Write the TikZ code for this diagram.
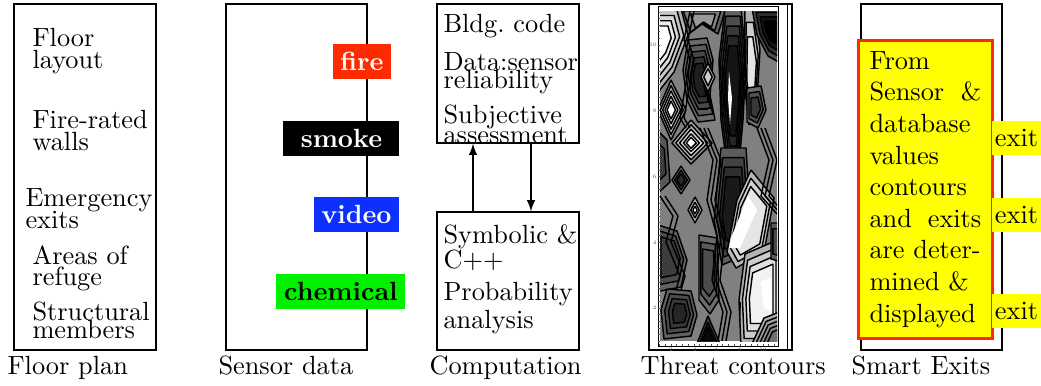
\documentclass[tikz,border=0pt]{standalone}
\usetikzlibrary{positioning}
\definecolor{firered}{RGB}{255,42,0}
\definecolor{videoblue}{RGB}{14,48,255}
\definecolor{chemgreen}{RGB}{0,240,0}
\definecolor{exityellow}{RGB}{255,255,0}
\newlength\unitpx
\setlength\unitpx{0.38pt}
\newcommand{\isoblob}[3]{\foreach \s/\g in {#2}{\filldraw[isoline,fill=black!\g,scale around={\s:#1}] #3;}}
\newcommand{\isobundle}[2]{\foreach \dx in {#1}{\draw[isoline,shift={(\dx,0)}] #2;}}
\newcommand{\linegap}[1]{\fontsize{10pt}{#1}\selectfont\lineskiplimit=-20pt\relax}
\tikzset{
  panel/.style={draw,line width=0.5pt,inner sep=0pt},
  item/.style={anchor=north west,inner sep=0pt,align=left,font={\linegap{#1}}},
  item/.default=8.2pt,
  sensortag/.style={anchor=east,font=\bfseries,text=white,inner xsep=3pt,inner ysep=0pt,minimum height=35\unitpx},
  exittag/.style={anchor=west,fill=exityellow,inner sep=0pt,minimum width=50\unitpx,minimum height=34\unitpx},
  caption/.style={anchor=base west,inner sep=0pt},
  isoline/.style={draw=black,line width=0.55pt,line join=bevel},
  tickmark/.style={line width=0.2pt,black!70},
  ticklabel/.style={inner sep=0pt,font=\fontsize{2}{2}\selectfont,text=black!70},
}
\begin{document}
\begin{tikzpicture}[>=latex,x=0.38pt,y=-0.38pt]
\useasboundingbox (0,0) rectangle (1041,385);
%% panels
\node (floorpanel) [panel,minimum width=142\unitpx,minimum height=346\unitpx] at (85,177) {};
\node (sensorpanel) [panel,minimum width=141\unitpx,minimum height=346\unitpx] at (296.5,177) {};
\node (compupper) [panel,minimum width=142\unitpx,minimum height=139\unitpx] at (508,73.5) {};
\node (complower) [panel,minimum width=142\unitpx,minimum height=138\unitpx] at (508,281) {};
\node (threatpanel) [panel,minimum width=143\unitpx,minimum height=346\unitpx] at (720.5,177) {};
\node (exitpanel) [panel,minimum width=141\unitpx,minimum height=346\unitpx] at (931.5,177) {};
%% floor plan
\node (layout) [item] at (32,28) {Floor\\layout};
\node (walls) [item] at (32,110) {Fire-rated\\walls};
\node (emexits) [item] at (25,188) {Emergency\\exits};
\node (refuge) [item] at (32,245) {Areas of\\refuge};
\node (members) [item=7pt] at (32,301) {Structural\\members};
%% sensor data
\node (fire) [sensortag,fill=firered] at (392,61.5) {fire};
\node (smoke) [sensortag,fill=black,minimum width=116\unitpx] at (400,138.5) {smoke};
\node (video) [sensortag,fill=videoblue] at (400,214.5) {video};
\node (chemical) [sensortag,fill=chemgreen,text=black] at (406,291.5) {chemical};
%% computation
\node (bldg) [item] at (443,14) {Bldg.\ code};
\node (reliab) [item=6.8pt] at (443,52) {Data:sensor\\reliability};
\node (subj) [item=7.6pt] at (443,104) {Subjective\\assessment};
\node (symb) [item=9.5pt] at (443,224) {Symbolic \&\\C++};
\node (prob) [item=10.6pt] at (443,282) {Probability\\analysis};
\coordinate (upline) at (473,0);
\coordinate (downline) at (531,0);
\draw [->,line width=0.5pt] (complower.north -| upline) -- (compupper.south -| upline);
\draw [->,line width=0.5pt] (compupper.south -| downline) -- (complower.north -| downline);
%% threat contours
\begin{scope}
\clip (660,11) rectangle (777,341);
\fill [black!50] (660,11) rectangle (777,341);
\isoblob{(705,20)}{1/62,0.75/50,0.5/40}{(676,8) -- (726,8) -- (718,34) -- (702,24) -- (686,36) -- cycle}
\isoblob{(660,40)}{1/30,0.85/22,0.7/15,0.55/8,0.4/0}{(655,5) -- (680,5) -- (688,35) -- (674,72) -- (655,96) -- cycle}
\isoblob{(700,80)}{1/58,0.85/64,0.7/72,0.55/80,0.4/88}{(688,40) -- (707,38) -- (713,60) -- (710,95) -- (715,120) -- (698,122) -- (687,100) -- (683,70) -- cycle}
\fill [black] (700,108) rectangle (708,110);
\isoblob{(708,77)}{1/35,0.6/20}{(708,63) -- (715,77) -- (708,92) -- (701,77) -- cycle}
\isoblob{(733,90)}{1/62,0.9/70,0.78/78,0.66/85,0.54/92}{(725,8) -- (741,8) -- (746,60) -- (743,120) -- (738,175) -- (728,175) -- (721,120) -- (719,60) -- cycle}
\fill [white] (729,72) -- (732,98) -- (730,124) -- (728,98) -- cycle;
\isoblob{(751,80)}{1/30,0.8/20,0.6/10}{(745,8) -- (754,8) -- (760,50) -- (757,100) -- (749,125) -- (744,80) -- cycle}
\isoblob{(772,30)}{1/70,0.8/82,0.6/92,0.4/100}{(752,8) -- (782,8) -- (782,64) -- (768,56) -- (757,35) -- cycle}
\isoblob{(755,108)}{1/58,0.75/68,0.5/78}{(747,88) -- (761,86) -- (766,110) -- (758,128) -- (747,122) -- cycle}
\isoblob{(671,110)}{1/40,0.82/30,0.64/20,0.46/10,0.3/0}{(671,80) -- (686,110) -- (671,140) -- (658,110) -- cycle}
\isoblob{(691,143)}{1/35,0.8/25,0.6/15,0.4/5,0.25/0}{(691,120) -- (712,143) -- (691,164) -- (672,143) -- cycle}
\isoblob{(660,162)}{1/66,0.6/76}{(655,128) -- (667,140) -- (670,182) -- (655,196) -- cycle}
\isoblob{(732,212)}{1/64,0.85/74,0.7/82,0.55/90}{(721,148) -- (746,148) -- (749,195) -- (741,257) -- (722,265) -- (714,220) -- cycle}
\isoblob{(750,225)}{1/28,0.85/18,0.7/10}{(751,170) -- (774,198) -- (764,252) -- (736,268) -- (727,252) -- (737,200) -- cycle}
\fill [white] (748,196) -- (757,210) -- (740,248) -- (729,248) -- (731,238) -- cycle;
\isoblob{(681,180)}{1/58,0.7/72,0.45/84}{(681,166) -- (690,180) -- (681,194) -- (672,180) -- cycle}
\isoblob{(695,210)}{1/30,0.6/12,0.3/0}{(695,197) -- (702,210) -- (695,223) -- (688,210) -- cycle}
\isoblob{(670,256)}{1/62,0.8/70,0.6/76}{(655,224) -- (677,231) -- (687,260) -- (681,287) -- (655,292) -- cycle}
\isoblob{(708,270)}{1/58,0.8/64,0.6/70}{(699,235) -- (717,238) -- (719,300) -- (710,314) -- (699,300) -- cycle}
\isoblob{(680,313)}{1/62,0.8/70,0.6/78,0.4/85}{(667,289) -- (691,291) -- (697,315) -- (691,336) -- (664,339) -- (661,310) -- cycle}
\isoblob{(708,336)}{1/72,0.7/86,0.45/96}{(696,346) -- (708,316) -- (721,346) -- cycle}
\isoblob{(762,296)}{1/30,0.85/20,0.7/12,0.55/5}{(745,254) -- (782,238) -- (782,346) -- (741,346) -- (739,300) -- cycle}
\fill [white] (761,282) -- (771,277) -- (772,311) -- (764,308) -- cycle;
\fill [black] (739,302) -- (741,302) -- (740,326) -- cycle;
\isoblob{(778,341)}{1/32,0.85/38,0.7/44,0.55/50,0.4/56}{(751,346) -- (764,318) -- (782,311) -- (782,346) -- cycle}
\isoblob{(777,242)}{1/64,0.7/72}{(771,223) -- (782,223) -- (782,262) -- (771,259) -- cycle}
\isobundle{0,4,8}{(700,128) -- (713,160) -- (707,200) -- (717,236) -- (712,280) -- (723,312) -- (718,341)}
\isobundle{0,4,8}{(757,128) -- (769,160) -- (761,196) -- (777,214)}
\isobundle{0,5}{(660,196) -- (673,216) -- (666,242) -- (680,276) -- (676,290)}
\isobundle{0,4}{(690,11) -- (684,40) -- (690,60) -- (680,118) -- (686,128)}
\end{scope}
\draw [line width=0.3pt] (658,6) rectangle (778,346);
\draw [line width=0.3pt] (787,4) -- (787,350);
\foreach \i in {0,...,50} {\draw [tickmark] (658,{341-\i*6.58}) -- ++(2,0);}
\foreach \i in {0,...,20} {\draw [tickmark] ({659.5+\i*5.75},346) -- ++(0,-2);}
\foreach \v/\yy in {10/45,8/111,6/177,4/243,2/308} {\node (ly\v) [ticklabel,anchor=east] at (657,\yy) {\v};}
\foreach \v/\xx in {2/671,4/695,6/717,8/740,10/763} {\node (lx\v) [ticklabel,anchor=north] at (\xx,347) {\v};}
%% smart exits
\node (exitbox) [anchor=north west,fill=exityellow,draw=firered,line width=1.1pt,text width=42.5pt,inner xsep=4.2pt,inner ysep=4.2pt,align=left] at (857,39)
  {From\\Sensor\hfill\&\\database\\values\\contours\\and\hfill exits\\are deter-\\mined \&\\displayed};
\node (exita) [exittag] at (991,138) {exit};
\node (exitb) [exittag] at (991,215) {exit};
\node (exitc) [exittag] at (991,311) {exit};
%% captions
\node (capfloor) [caption] at (7,374) {Floor plan};
\node (capsensor) [caption] at (218,374) {Sensor data};
\node (capcomp) [caption] at (429,374) {Computation};
\node (capthreat) [caption] at (640,374) {Threat contours};
\node (capexit) [caption] at (851,374) {Smart Exits};
%
\end{tikzpicture}
\end{document}
